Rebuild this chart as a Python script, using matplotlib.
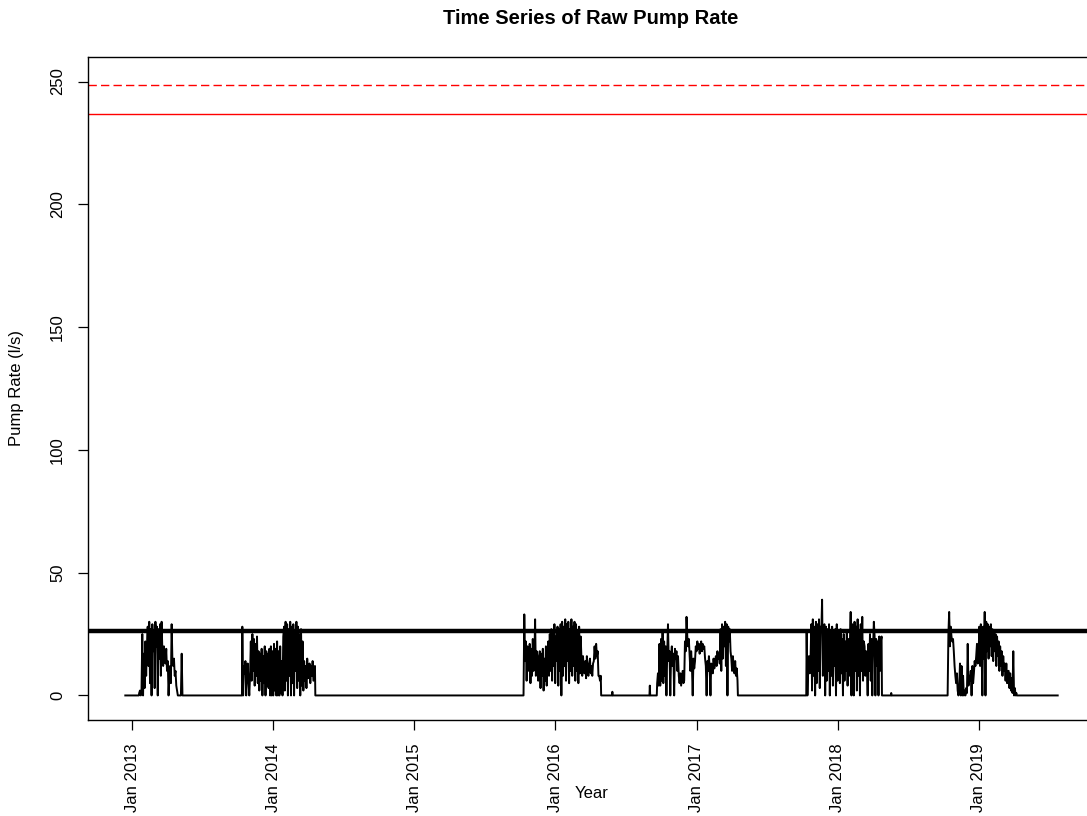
import matplotlib.pyplot as plt
import matplotlib.dates as mdates
import numpy as np
import pandas as pd

plt.rcParams['font.family'] = ['Liberation Sans', 'DejaVu Sans']

# first and last day of the record
series_start, series_end = '2012-12-14', '2019-07-25'

# reference lines (l/s)
mean_rate = 26.4
limit_rate = 236.6
limit_upper = 248.4

# pumping seasons: first day and readings every 2 days
season_starts = ['2013-01-19', '2013-10-13', '2015-10-11',
                 '2016-09-21', '2017-10-13', '2018-10-13']

rate_2013 = [1, 2, 0, 2, 25, 0, 17, 3, 22, 8, 20,
             28, 12, 30, 5, 27, 0, 29, 18, 26, 3, 30, 20, 28, 0, 27, 15, 29, 8, 30,
             18, 12, 20, 15, 13, 19, 10, 14, 0, 8, 12, 5, 29, 14,
             12, 15, 8, 10, 4, 2, 0, 0, 0, 0, 0, 17, 0]

rate_2014 = [28, 0, 12, 9, 14, 0, 10, 13, 5, 0, 8,
             22, 6, 25, 10, 23, 4, 21, 8, 24, 5,
             18, 2, 17, 6, 19, 0, 16, 5, 20, 0, 18, 4, 17, 3,
             19, 0, 20, 0, 18, 0, 21, 2, 19, 0, 22, 0, 18, 0, 20, 1,
             14, 0, 24,
             28, 2, 30, 6, 29, 0, 27, 8, 30, 0, 28, 5, 29, 0, 26, 10, 30, 3, 28, 6,
             25, 0, 27, 4, 22, 2,
             14, 6, 12, 3, 15, 7, 9, 13, 5, 12, 8, 14, 6, 9, 12]

rate_2016 = [0, 33, 14,
             22, 6, 20, 10, 11, 21, 5, 19, 8, 23, 10,
             14, 31, 8, 18,
             16, 6, 13, 18, 3, 17, 8, 19, 2, 15, 6, 20, 4, 16,
             22, 8, 25, 10, 27, 6, 26, 12, 29, 5, 24, 14, 28, 4, 27, 10, 29,
             0, 30, 8, 28, 12, 31, 6, 29, 14, 30, 5, 27, 10, 31, 8, 28, 12, 30,
             6, 29, 10, 26, 5, 28, 9, 24,
             15, 8, 16, 10, 9, 14, 7, 16, 10, 8, 13, 15, 9, 12, 8, 13, 14,
             20, 15, 21, 16, 18, 8, 8, 6, 8]

rate_2017 = [5, 9, 4,
             21, 4, 23, 6, 26, 5, 22, 8, 20,
             0, 17, 29, 14,
             18, 0, 16, 20, 12, 17, 0, 19, 15, 18, 10, 16,
             8, 5, 9, 4, 7, 10, 5, 6,
             22, 18, 32, 24, 20, 23,
             16, 10, 18, 12, 0, 15, 11, 14,
             20, 18, 22, 19, 21, 17, 20, 22, 18, 21, 19, 20,
             15, 12, 0, 14, 10, 16, 11, 0, 13, 12, 9, 15, 11,
             14, 16, 12, 18, 15, 17, 13,
             27, 10, 29, 15, 28, 20, 30, 12, 29, 0, 28, 22, 27, 18,
             15, 10, 16, 12, 9, 14, 8, 11, 6]

rate_2018 = [26, 0, 12, 16, 9, 14,
             29, 2, 31, 8, 28, 0, 30, 5, 29, 10, 31, 3, 28,
             26, 39, 8, 27,
             29, 0, 28, 6, 27, 10, 29, 0, 26, 8, 28, 4, 25, 12, 27, 0, 29, 6, 26,
             24, 5, 27, 9, 23, 0, 25, 6, 22, 10, 26, 4, 23, 8,
             20, 34, 0, 29,
             27, 0, 30, 10, 28, 2, 31, 8, 26, 0, 29, 10,
             32, 6, 22,
             20, 8, 18, 12, 0, 21, 10, 25, 6, 23, 0, 20, 30,
             24, 0, 23, 12, 22, 0, 24, 10, 22, 24]

rate_2019 = [0, 25, 34, 20, 28, 24, 22, 23, 18,
             12, 8, 5, 9, 2, 0, 3,
             13, 0, 12, 0, 8, 0, 2, 0, 3, 1,
             21, 4, 8, 6, 10, 0, 12, 5, 9,
             14, 12, 16, 21, 13, 15,
             28, 12, 29, 18, 0, 28, 15, 34, 0,
             30, 18, 29, 15, 28, 20, 29, 16, 27, 14, 26, 18, 25, 12, 24, 16,
             22, 10, 20, 12, 18, 8, 16, 10, 13, 6, 13, 5, 10,
             10, 3, 9, 2, 7, 1, 18, 0, 3, 0, 1]

season_rates = [rate_2013, rate_2014, rate_2016, rate_2017, rate_2018, rate_2019]

# short isolated readings between seasons
spike_dates = ['2016-05-28', '2016-09-02', '2018-05-20']
spike_rates = [1.5, 4, 1]

one_day = pd.Timedelta(days=1)
pts = [(pd.Timestamp(series_start), 0.0), (pd.Timestamp(series_end), 0.0)]
for start, rates in zip(season_starts, season_rates):
    days = pd.date_range(start, periods=len(rates), freq='2D')
    pts.append((days[0] - one_day, 0.0))
    pts += list(zip(days, rates))
    pts.append((days[-1] + one_day, 0.0))
for d, r in zip(spike_dates, spike_rates):
    d = pd.Timestamp(d)
    pts += [(d - one_day, 0.0), (d, r), (d + one_day, 0.0)]
pts.sort(key=lambda p: p[0])
dates = [p[0] for p in pts]
rates = [p[1] for p in pts]

W, H = 1087, 816
fig = plt.figure(figsize=(W / 100, H / 100), dpi=100)
ax = fig.add_axes([88 / W, 96 / H, 1007 / W, 663 / H])

ax.plot(dates, rates, color='black', lw=1.4)
ax.axhline(mean_rate, color='black', lw=3.2)
ax.axhline(limit_rate, color='red', lw=1)
ax.axhline(limit_upper, color='red', lw=1, dashes=(6, 3))

t0 = mdates.date2num(pd.Timestamp(series_start))
t1 = mdates.date2num(pd.Timestamp(series_end))
pad = 0.04 * (t1 - t0)
ax.set_xlim(t0 - pad, t1 + pad)
ax.set_ylim(-10, 260)

ax.xaxis.set_major_locator(mdates.YearLocator())
ax.xaxis.set_major_formatter(mdates.DateFormatter('Jan %Y'))
ax.set_yticks(np.arange(0, 251, 50))
ax.tick_params(direction='out', length=7.5, width=0.9, labelsize=12, pad=9)
for lbl in ax.get_xticklabels():
    lbl.set_rotation(90)
for lbl in ax.get_yticklabels():
    lbl.set_rotation(90)
    lbl.set_va('center')
for s in ax.spines.values():
    s.set_linewidth(1)

ax.set_xlabel('Year', fontsize=12)
ax.xaxis.set_label_coords(0.5, (720 - 793) / 663)
ax.xaxis.label.set_va('center')
ax.set_ylabel('Pump Rate (l/s)', fontsize=12)
ax.yaxis.set_label_coords((17 - 88) / 1007, 0.5)
ax.yaxis.label.set_va('center')

fig.text(591 / W, 1 - 18 / H, 'Time Series of Raw Pump Rate',
         ha='center', va='center', fontsize=14.5, fontweight='bold')

fig.savefig('out.png', dpi=100)
